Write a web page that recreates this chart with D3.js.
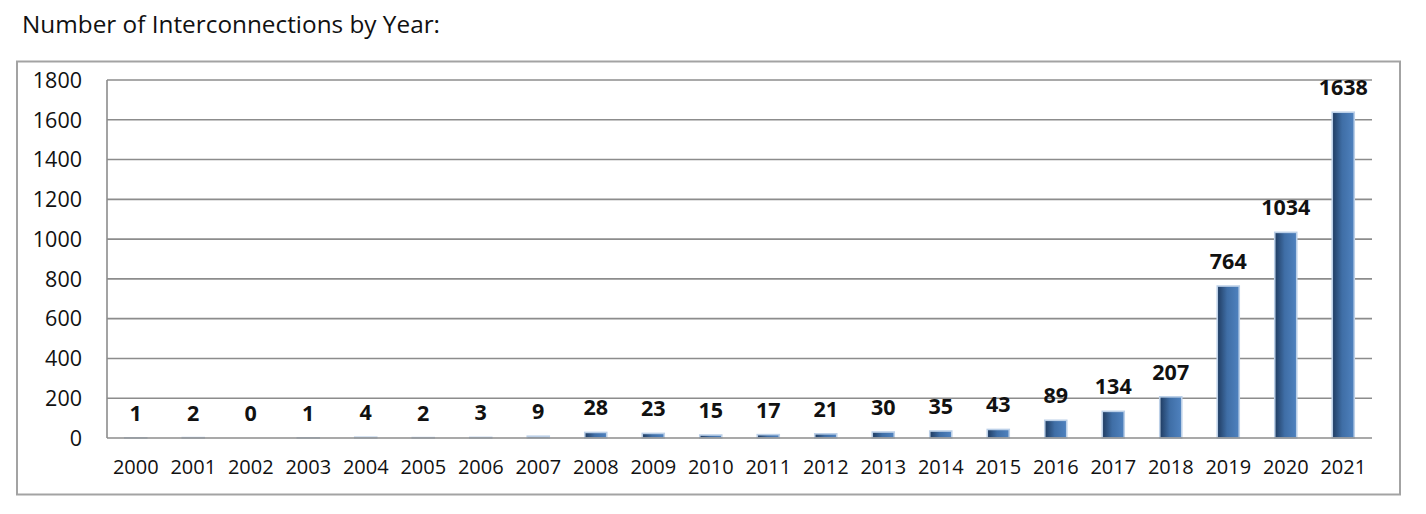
<!DOCTYPE html>
<html><head><meta charset="utf-8">
<script src="https://cdn.jsdelivr.net/npm/d3@7"></script>
<style>body{margin:0;background:#fff}svg{display:block}</style>
</head><body>
<svg id="c" width="1426" height="514"></svg>
<script>
const years = ["2000","2001","2002","2003","2004","2005","2006","2007","2008","2009","2010","2011","2012","2013","2014","2015","2016","2017","2018","2019","2020","2021"];
const counts = [1,2,0,1,4,2,3,9,28,23,15,17,21,30,35,43,89,134,207,764,1034,1638];
const yTicks = [0,200,400,600,800,1000,1200,1400,1600,1800];
const title = "Number of Interconnections by Year:";

const svg = d3.select("#c");
const font = "'Open Sans', sans-serif";
const L = 107, R = 1372, T = 80, B = 438;

const defs = svg.append("defs");
const g = defs.append("linearGradient").attr("id","bg").attr("x1","0").attr("x2","1").attr("y1","0").attr("y2","0");
g.append("stop").attr("offset","0%").attr("stop-color","#1f3b60");
g.append("stop").attr("offset","45%").attr("stop-color","#3f6ea6");
g.append("stop").attr("offset","100%").attr("stop-color","#4f82bf");

svg.append("text").attr("x",22).attr("y",33).attr("font-family",font).attr("font-size",23)
  .attr("textLength",418).attr("lengthAdjust","spacingAndGlyphs")
  .attr("fill","#111").text(title);

svg.append("rect").attr("x",17).attr("y",61.5).attr("width",1383).attr("height",433)
  .attr("fill","none").attr("stroke","#a3a3a3").attr("stroke-width",2);

const x = d3.scaleBand().domain(years).range([L,R]).paddingInner(0).paddingOuter(0);
const y = d3.scaleLinear().domain([0,1800]).range([B,T]);

svg.append("g").selectAll("line").data(yTicks.filter(d=>d>0)).join("line")
  .attr("x1",L).attr("x2",R).attr("y1",d=>y(d)).attr("y2",d=>y(d))
  .attr("stroke","#8c8c8c").attr("stroke-width",1.6);

const bw = 22;
svg.append("g").selectAll("rect").data(years).join("rect")
  .attr("x",(d)=>x(d)+x.bandwidth()/2-bw/2)
  .attr("y",(d,i)=>y(counts[i]))
  .attr("width",bw)
  .attr("height",(d,i)=>B-y(counts[i]))
  .attr("fill","url(#bg)").attr("stroke","#bcd0e8").attr("stroke-width",1.6);

svg.append("line").attr("x1",L).attr("x2",L).attr("y1",T).attr("y2",B).attr("stroke","#8c8c8c").attr("stroke-width",1.6);
svg.append("line").attr("x1",L).attr("x2",R).attr("y1",B).attr("y2",B).attr("stroke","#8c8c8c").attr("stroke-width",1.6);

svg.append("g").selectAll("text").data(yTicks).join("text")
  .attr("x",82).attr("y",d=>y(d)).attr("dy","0.36em").attr("text-anchor","end")
  .attr("font-family",font).attr("font-size",21.5).attr("fill","#111").text(d=>d);

svg.append("g").selectAll("text").data(years).join("text")
  .attr("x",d=>x(d)+x.bandwidth()/2).attr("y",474).attr("text-anchor","middle")
  .attr("font-family",font).attr("font-size",20).attr("fill","#111").text(d=>d);

svg.append("g").selectAll("text").data(years).join("text")
  .attr("x",d=>x(d)+x.bandwidth()/2).attr("y",(d,i)=>y(counts[i])-17).attr("text-anchor","middle")
  .attr("font-family",font).attr("font-weight","bold").attr("font-size",21.5).attr("fill","#111")
  .text((d,i)=>counts[i]);
</script>
</body></html>
